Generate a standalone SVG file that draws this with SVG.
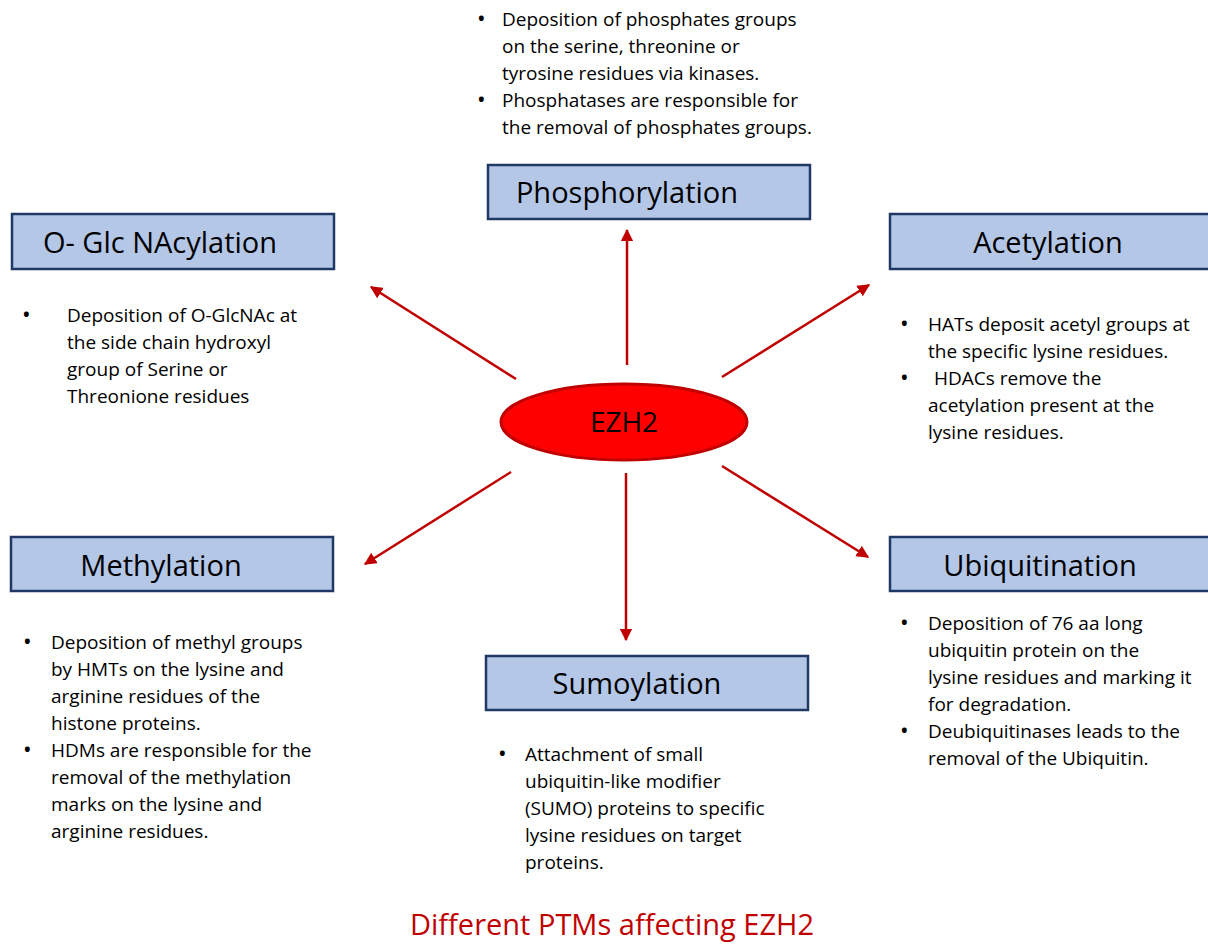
<svg xmlns="http://www.w3.org/2000/svg" width="1208" height="944" viewBox="0 0 1208 944">
<defs>
<style>
.box{fill:#b4c7e7;stroke:#1f3864;stroke-width:2.5}
.ttl{font-family:"Open Sans","Liberation Sans",sans-serif;font-size:29px;fill:#000;text-anchor:middle}
.body{font-family:"Open Sans","Liberation Sans",sans-serif;font-size:19px;fill:#000}
.b{font-size:23px}
.conn{stroke:#c00000;stroke-width:2.5;fill:none;marker-end:url(#ah)}
</style>
<marker id="ah" viewBox="0 0 10 10" refX="9" refY="5" markerWidth="5" markerHeight="5" orient="auto" markerUnits="strokeWidth">
<path d="M0,0 L10,5 L0,10 z" fill="#c00000"/>
</marker>
</defs>
<rect width="1208" height="944" fill="#fff"/>

<g id="connectors">
<line class="conn" x1="627" y1="365" x2="627" y2="230"/>
<line class="conn" x1="516" y1="379" x2="371" y2="287"/>
<line class="conn" x1="722" y1="377" x2="869" y2="285"/>
<line class="conn" x1="511" y1="472" x2="365" y2="564"/>
<line class="conn" x1="722" y1="466" x2="868" y2="557"/>
<line class="conn" x1="626" y1="473" x2="626" y2="640"/>
</g>

<g id="ezh2">
<ellipse cx="624" cy="422" rx="123" ry="38" fill="#ff0000" stroke="#c00000" stroke-width="3"/>
<text x="624" y="432" class="ttl" style="font-size:28px">EZH2</text>
</g>

<g id="phosphorylation">
<rect class="box" x="488" y="165" width="322" height="54"/>
<text x="627" y="203" class="ttl">Phosphorylation</text>
<g class="body">
<text x="477" y="27" class="b">•</text>
<text x="502" y="26">Deposition of phosphates groups</text>
<text x="502" y="53">on the serine, threonine or</text>
<text x="502" y="80">tyrosine residues via kinases.</text>
<text x="477" y="108" class="b">•</text>
<text x="502" y="107">Phosphatases are responsible for</text>
<text x="502" y="134">the removal of phosphates groups.</text>
</g>
</g>

<g id="oglcnacylation">
<rect class="box" x="12" y="214" width="322" height="55"/>
<text x="160" y="253" class="ttl">O- Glc NAcylation</text>
<g class="body">
<text x="22" y="323" class="b">•</text>
<text x="67" y="322">Deposition of O-GlcNAc at</text>
<text x="67" y="349">the side chain hydroxyl</text>
<text x="67" y="376">group of Serine or</text>
<text x="67" y="403">Threonione residues</text>
</g>
</g>

<g id="acetylation">
<rect class="box" x="890" y="214" width="330" height="55"/>
<text x="1048" y="253" class="ttl">Acetylation</text>
<g class="body">
<text x="900" y="332" class="b">•</text>
<text x="928" y="331">HATs deposit acetyl groups at</text>
<text x="928" y="358">the specific lysine residues.</text>
<text x="900" y="386" class="b">•</text>
<text x="934" y="385">HDACs remove the</text>
<text x="928" y="412">acetylation present at the</text>
<text x="928" y="439">lysine residues.</text>
</g>
</g>

<g id="methylation">
<rect class="box" x="11" y="537" width="322" height="54"/>
<text x="161" y="576" class="ttl">Methylation</text>
<g class="body">
<text x="23" y="650" class="b">•</text>
<text x="51" y="649">Deposition of methyl groups</text>
<text x="51" y="676">by HMTs on the lysine and</text>
<text x="51" y="703">arginine residues of the</text>
<text x="51" y="730">histone proteins.</text>
<text x="23" y="758" class="b">•</text>
<text x="51" y="757">HDMs are responsible for the</text>
<text x="51" y="784">removal of the methylation</text>
<text x="51" y="811">marks on the lysine and</text>
<text x="51" y="838">arginine residues.</text>
</g>
</g>

<g id="ubiquitination">
<rect class="box" x="890" y="537" width="330" height="54"/>
<text x="1040" y="576" class="ttl">Ubiquitination</text>
<g class="body">
<text x="900" y="631" class="b">•</text>
<text x="928" y="630">Deposition of 76 aa long</text>
<text x="928" y="657">ubiquitin protein on the</text>
<text x="928" y="684">lysine residues and marking it</text>
<text x="928" y="711">for degradation.</text>
<text x="900" y="739" class="b">•</text>
<text x="928" y="738">Deubiquitinases leads to the</text>
<text x="928" y="765">removal of the Ubiquitin.</text>
</g>
</g>

<g id="sumoylation">
<rect class="box" x="486" y="656" width="322" height="54"/>
<text x="637" y="694" class="ttl">Sumoylation</text>
<g class="body">
<text x="498" y="762" class="b">•</text>
<text x="525" y="761">Attachment of small</text>
<text x="525" y="788">ubiquitin-like modifier</text>
<text x="525" y="815">(SUMO) proteins to specific</text>
<text x="525" y="842">lysine residues on target</text>
<text x="525" y="869">proteins.</text>
</g>
</g>

<text id="caption" x="612" y="935" font-family="'Open Sans','Liberation Sans',sans-serif" font-size="29" fill="#c00000" text-anchor="middle">Different PTMs affecting EZH2</text>
</svg>
